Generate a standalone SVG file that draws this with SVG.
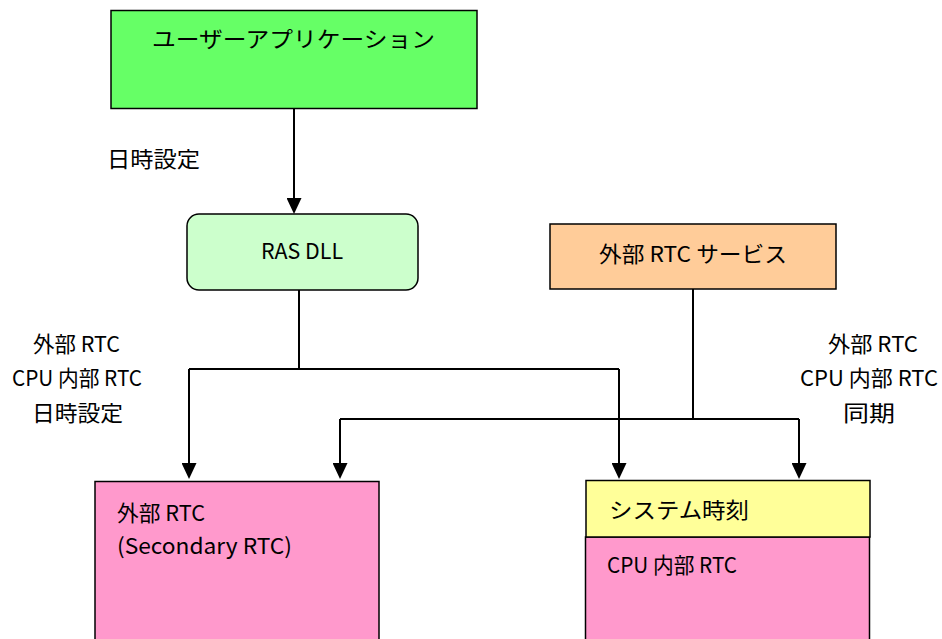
<svg xmlns="http://www.w3.org/2000/svg" width="942" height="639" viewBox="0 0 942 639">
<style>
.box{stroke:#000;stroke-width:1.5}
.t{font-family:"Noto Sans CJK JP","Liberation Sans",sans-serif;font-size:22px;fill:#000}
.c{fill:none;stroke:#000;stroke-width:2}
.a{marker-end:url(#ah)}
</style>
<defs>
<marker id="ah" markerUnits="userSpaceOnUse" viewBox="0 -7.5 16 15" refX="12" refY="0" markerWidth="16" markerHeight="15" orient="auto">
<path d="M0,-7.5 L16,0 L0,7.5 Z" fill="#000"/>
</marker>
</defs>
<rect width="942" height="639" fill="#fff"/>
<g id="connectors">
<path class="c a" d="M294,109 V210"/>
<path class="c" d="M299,290 V369"/>
<path class="c" d="M189,369 H619"/>
<path class="c a" d="M189,369 V475"/>
<path class="c a" d="M619,369 V475"/>
<path class="c" d="M693,289 V419"/>
<path class="c" d="M340,419 H799"/>
<path class="c a" d="M340,419 V475"/>
<path class="c a" d="M799,419 V475"/>
</g>
<g id="labels">
<text class="t" x="107" y="167" textLength="93" lengthAdjust="spacingAndGlyphs">日時設定</text>
<text class="t" x="33" y="352" textLength="87" lengthAdjust="spacingAndGlyphs">外部 RTC</text>
<text class="t" x="12" y="386" textLength="130" lengthAdjust="spacingAndGlyphs">CPU 内部 RTC</text>
<text class="t" x="32" y="421" textLength="91" lengthAdjust="spacingAndGlyphs">日時設定</text>
<text class="t" x="828" y="352" textLength="90" lengthAdjust="spacingAndGlyphs">外部 RTC</text>
<text class="t" x="800" y="386" textLength="138" lengthAdjust="spacingAndGlyphs">CPU 内部 RTC</text>
<text class="t" x="843" y="421" textLength="52" lengthAdjust="spacingAndGlyphs">同期</text>
</g>
<g id="user-app">
<rect class="box" x="111" y="10.5" width="366" height="98" fill="#66FF66"/>
<text class="t" x="152" y="47" textLength="283" lengthAdjust="spacingAndGlyphs">ユーザーアプリケーション</text>
</g>
<g id="ras-dll">
<rect class="box" x="187" y="214" width="231" height="76" rx="12" fill="#CCFFCC"/>
<text class="t" x="261" y="259" textLength="82" lengthAdjust="spacingAndGlyphs">RAS DLL</text>
</g>
<g id="ext-rtc-service">
<rect class="box" x="550" y="224" width="286" height="65" fill="#FFCC99"/>
<text class="t" x="599" y="262" textLength="188" lengthAdjust="spacingAndGlyphs">外部 RTC サービス</text>
</g>
<g id="ext-rtc">
<rect class="box" x="95" y="481.5" width="284" height="170" fill="#FF99CC"/>
<text class="t" x="117" y="521" textLength="88" lengthAdjust="spacingAndGlyphs">外部 RTC</text>
<text class="t" x="117" y="554" textLength="175" lengthAdjust="spacingAndGlyphs">(Secondary RTC)</text>
</g>
<g id="cpu-rtc">
<rect class="box" x="585.5" y="537" width="284" height="115" fill="#FF99CC"/>
<text class="t" x="607" y="573" textLength="130" lengthAdjust="spacingAndGlyphs">CPU 内部 RTC</text>
</g>
<g id="system-time">
<rect class="box" x="586" y="480.5" width="284" height="56.5" fill="#FFFF99"/>
<text class="t" x="609" y="518" textLength="140" lengthAdjust="spacingAndGlyphs">システム時刻</text>
</g>
</svg>
